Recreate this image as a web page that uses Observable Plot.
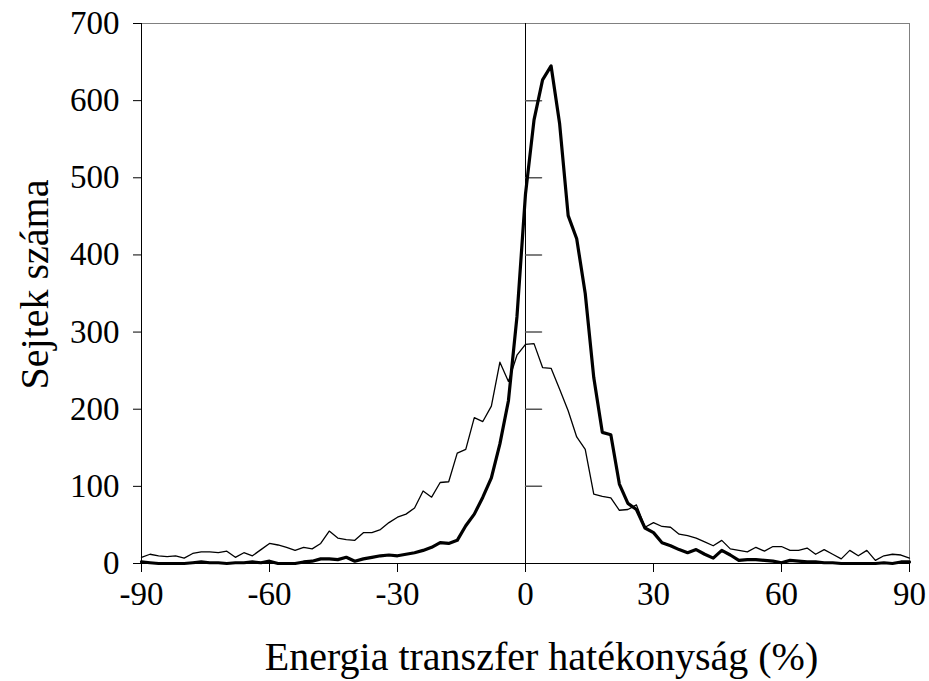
<!DOCTYPE html>
<html><head><meta charset="utf-8">
<script src="https://cdn.jsdelivr.net/npm/d3@7"></script>
<script src="https://cdn.jsdelivr.net/npm/@observablehq/plot@0.6"></script>
<style>body{margin:0;background:#fff;}</style>
</head><body><div id="chart"></div>
<script>
const energy = [-90,-88,-86,-84,-82,-80,-78,-76,-74,-72,-70,-68,-66,-64,-62,-60,-58,-56,-54,-52,-50,-48,-46,-44,-42,-40,-38,-36,-34,-32,-30,-28,-26,-24,-22,-20,-18,-16,-14,-12,-10,-8,-6,-4,-2,0,2,4,6,8,10,12,14,16,18,20,22,24,26,28,30,32,34,36,38,40,42,44,46,48,50,52,54,56,58,60,62,64,66,68,70,72,74,76,78,80,82,84,86,88,90];
const thinSeries = [8,12,10,9,10,7,13,15,15,14,16,8,14,10,18,26,24,21,17,21,19,26,42,33,31,30,40,40,44,53,60,64,72,94,86,105,106,143,148,189,184,204,261,236,270,284,285,254,253,226,198,164,148,90,87,85,69,70,76,47,53,48,47,38,36,33,28,23,30,19,17,15,21,16,22,22,17,17,20,12,18,12,6,17,10,17,4,10,12,11,7];
const thickSeries = [2,1,0,0,0,0,1,2,1,1,0,1,1,2,1,3,0,0,0,2,3,6,6,5,8,3,6,8,10,11,10,12,14,17,21,27,26,30,49,64,86,111,155,211,320,479,575,627,645,570,451,421,350,241,170,167,103,78,70,46,40,27,23,18,14,18,12,7,17,11,4,5,5,4,3,1,4,3,2,2,1,1,0,0,0,0,0,1,0,2,2];
const xTicks = [-90,-60,-30,0,30,60,90];
const yTicks = [0,100,200,300,400,500,600,700];
const innerTicks = [100,200,300,400,500,600];
const xLabel = "Energia transzfer hatékonyság (%)";
const yLabel = "Sejtek száma";

const rows = energy.map((e, i) => ({e, thin: thinSeries[i], thick: thickSeries[i]}));
const tickShape = {draw(context, l) { context.moveTo(0, 0); context.lineTo(0, -l); }};

const chart = Plot.plot({
  width: 929, height: 681,
  marginLeft: 141, marginRight: 20, marginTop: 23, marginBottom: 118,
  style: {fontFamily: "'Liberation Serif', 'Times New Roman', serif", fontSize: "33px", color: "#000", background: "#fff"},
  x: {domain: [-90, 90]},
  y: {domain: [0, 700]},
  marks: [
    Plot.frame({stroke: "#808080"}),
    Plot.axisX({ticks: xTicks, tickSize: 9, tickPadding: 9, tickFormat: d => String(d), label: null, fontSize: 33}),
    Plot.axisY({ticks: yTicks, tickSize: 8, tickPadding: 14, tickFormat: d => String(d), label: null, fontSize: 33}),
    Plot.text([xLabel], {text: d => d, frameAnchor: "bottom", textAnchor: "middle", lineAnchor: "middle", dx: 16, dy: 94, fontSize: 40, fill: "#000"}),
    Plot.text([yLabel], {text: d => d, frameAnchor: "left", textAnchor: "middle", lineAnchor: "middle", rotate: -90, dx: -106, dy: -9, fontSize: 40, fill: "#000"}),
    Plot.ruleX([-90], {stroke: "#000"}),
    Plot.ruleY([0], {stroke: "#000"}),
    Plot.ruleX([0], {stroke: "#000"}),
    Plot.vector(innerTicks, {x: () => 0, y: d => d, length: 16, rotate: 90, anchor: "start", shape: tickShape, stroke: "#555"}),
    Plot.line(rows, {x: "e", y: "thin", stroke: "#000", strokeWidth: 1.3}),
    Plot.line(rows, {x: "e", y: "thick", stroke: "#000", strokeWidth: 3.2})
  ]
});
document.getElementById("chart").appendChild(chart);
</script>
</body></html>
